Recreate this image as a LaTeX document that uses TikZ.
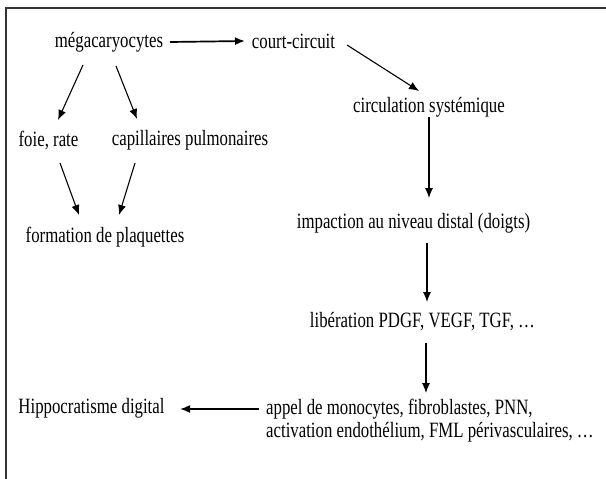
\documentclass[tikz,border=0pt]{standalone}
\usepackage{fontspec}
\setmainfont{Liberation Serif}
\usepackage{graphicx}
\usetikzlibrary{arrows.meta}
\newcommand{\vst}[1]{\scalebox{1}[1.3]{#1}}
\begin{document}
\begin{tikzpicture}[x=1pt,y=-1pt,
  lbl/.style={inner sep=0pt, font=\fontsize{16.8}{17.7}\selectfont},
  arr/.style={-{Latex[length=10pt,width=8pt]}, line width=1.1pt},
  arrh/.style={arr, line width=1.7pt}]
\useasboundingbox (0,0) rectangle (606,479);
\draw[line width=1.6pt, black!80] (606,8) -- (6,8) -- (6,479);
\node[lbl] (mega) at (109,42) {\vst{mégacaryocytes}};
\node[lbl] (court) at (293.5,41) {\vst{court-circuit}};
\node[lbl] (foie) at (48.5,140) {\vst{foie, rate}};
\node[lbl] (capil) at (190,140) {\vst{capillaires pulmonaires}};
\node[lbl] (form) at (105,237) {\vst{formation de plaquettes}};
\node[lbl] (circ) at (429,107) {\vst{circulation systémique}};
\node[lbl] (impact) at (413.5,223) {\vst{impaction au niveau distal (doigts)}};
\node[lbl] (lib) at (422.5,322) {\vst{libération PDGF, VEGF, TGF, …}};
\node[lbl] (hippo) at (91.5,408) {\vst{Hippocratisme digital}};
\node[lbl, anchor=west] (appel) at (266,421) {\vst{\begin{tabular}{@{}l@{}}appel de monocytes, fibroblastes, PNN,\\ activation endothélium, FML périvasculaires, …\end{tabular}}};
\draw[arrh] ([shift={(61,0)}]mega.center) -- ([shift={(-48.5,0)}]court.center);
\draw[arr] ([shift={(-26,23)}]mega.center) -- ([shift={(9.5,-20)}]foie.center);
\draw[arr] ([shift={(7,24)}]mega.center) -- ([shift={(-53,-21)}]capil.center);
\draw[arr] ([shift={(11.5,23)}]foie.center) -- ([shift={(-26,-22)}]form.center);
\draw[arr] ([shift={(-55,23)}]capil.center) -- ([shift={(14,-22)}]form.center);
\draw[arr] ([shift={(53.5,4)}]court.center) -- ([shift={(-10,-16)}]circ.center);
\draw[arr] ([shift={(0,10)}]circ.center) -- ([shift={(15.5,-25)}]impact.center);
\draw[arr] ([shift={(13.5,20)}]impact.center) -- ([shift={(4.5,-20)}]lib.center);
\draw[arr] ([shift={(3.5,21)}]lib.center) -- ([shift={(160,-28)}]appel.west);
\draw[arrh] ([shift={(-7,-12)}]appel.west) -- ([shift={(88.5,1)}]hippo.center);
\end{tikzpicture}
\end{document}
